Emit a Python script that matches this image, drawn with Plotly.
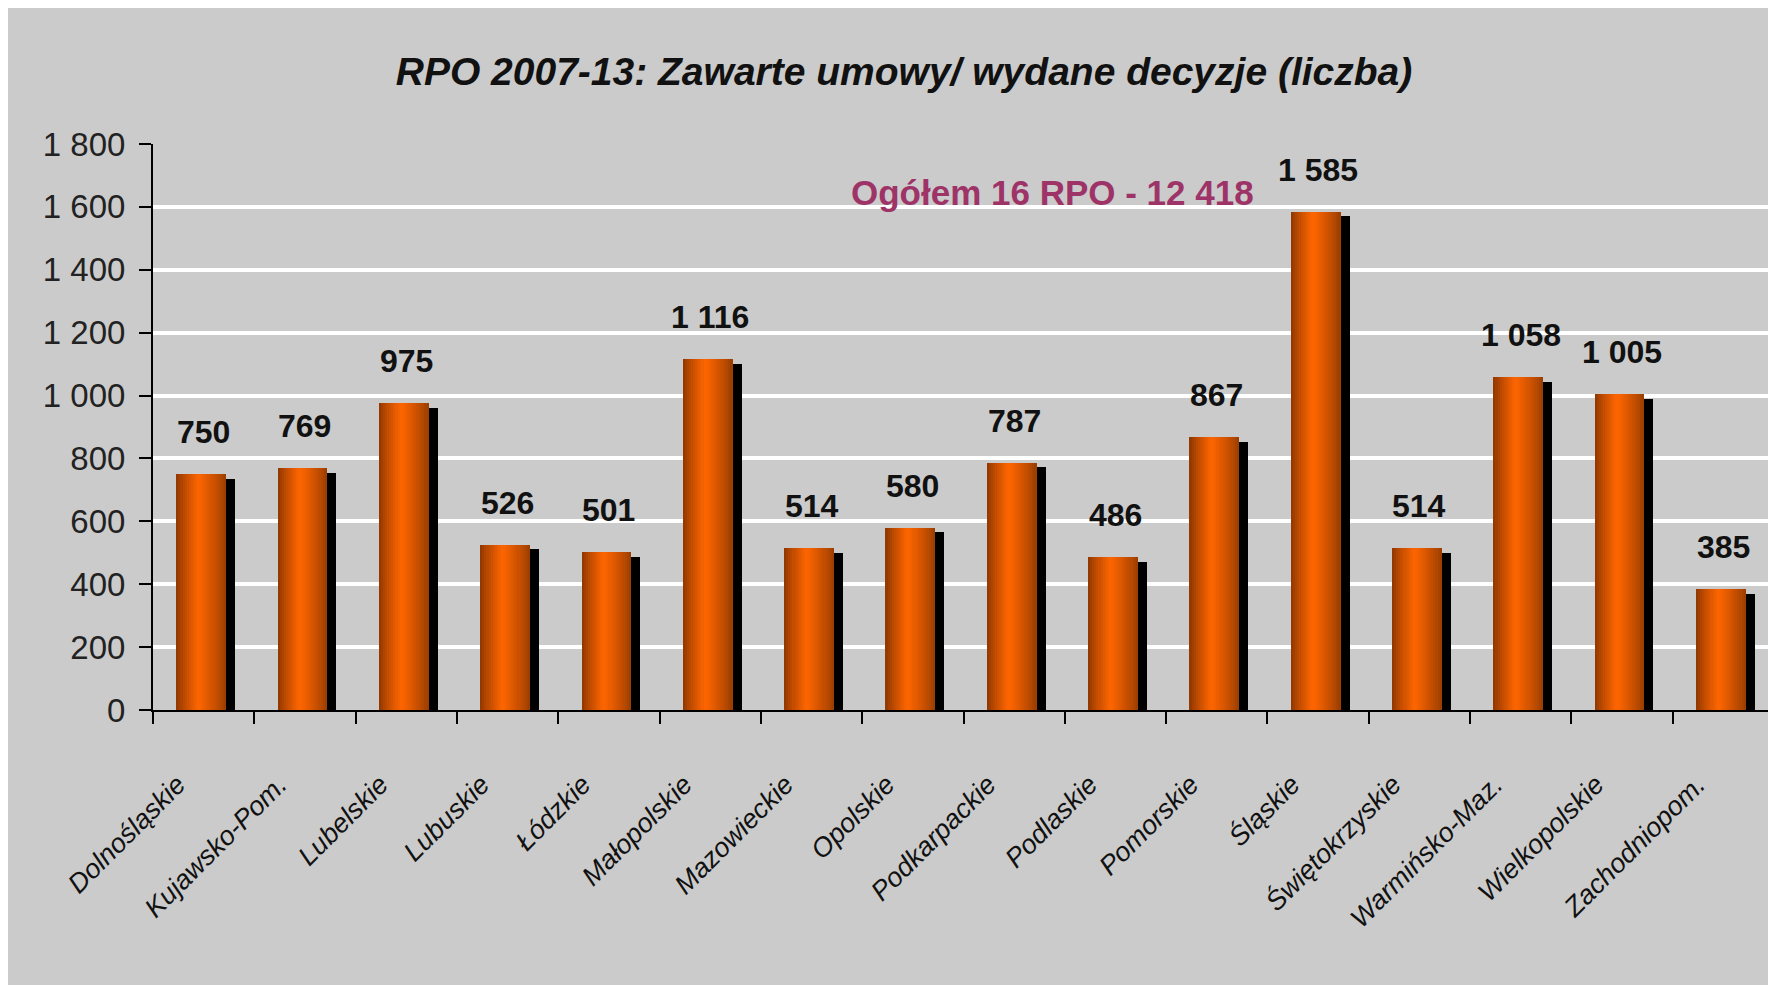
import plotly.graph_objects as go

# ---------------- data ----------------
categories = ["Dolnośląskie", "Kujawsko-Pom.", "Lubelskie", "Lubuskie", "Łódzkie",
              "Małopolskie", "Mazowieckie", "Opolskie", "Podkarpackie", "Podlaskie",
              "Pomorskie", "Śląskie", "Świętokrzyskie", "Warmińsko-Maz.",
              "Wielkopolskie", "Zachodniopom."]
values = [750, 769, 975, 526, 501, 1116, 514, 580, 787, 486, 867, 1585, 514, 1058, 1005, 385]
y_ticks = [0, 200, 400, 600, 800, 1000, 1200, 1400, 1600, 1800]
title_text = "RPO 2007-13: Zawarte umowy/ wydane decyzje (liczba)"


def fmt(n):
    return f"{n:,}".replace(",", " ")


total_text = f"Ogółem 16 RPO - {fmt(sum(values))}"

# ---------------- style ----------------
FONT = "Liberation Sans, Arial, sans-serif"
BG = "#cbcbcb"
W, H = 1768, 977
L, R, T, B = 145, 2, 136, 275

fig = go.Figure()

# shadow bars
shadow_drop = 15
fig.add_trace(go.Bar(
    x=categories, y=[v - shadow_drop for v in values],
    offset=0.12, width=0.19, marker=dict(color="black", line=dict(width=0)),
    hoverinfo="skip", showlegend=False))

# gradient orange bars built from thin strips
N = 24
bar_left, bar_w = -0.27, 0.49
dark_l = (0x8a, 0x36, 0x00)
dark_r = (0x95, 0x3c, 0x00)
bright = (0xff, 0x66, 0x00)
peak = 0.45
for i in range(N):
    t = (i + 0.5) / N
    if t <= peak:
        f = t / peak
        c0, c1 = dark_l, bright
    else:
        f = (1 - t) / (1 - peak)
        c0, c1 = dark_r, bright
    f = f ** 0.8
    col = tuple(int(c0[k] + (c1[k] - c0[k]) * f) for k in range(3))
    fig.add_trace(go.Bar(
        x=categories, y=values,
        offset=bar_left + i * bar_w / N, width=bar_w / N * 1.06,
        marker=dict(color="rgb(%d,%d,%d)" % col, line=dict(width=0)),
        hoverinfo="skip", showlegend=False))

# value labels
for c, v in zip(categories, values):
    fig.add_annotation(x=c, y=v, text=f"<b>{fmt(v)}</b>", showarrow=False,
                       yshift=42, yanchor="middle", xanchor="center",
                       font=dict(family=FONT, size=32, color="#111111"))

# total annotation
fig.add_annotation(xref="paper", yref="paper", x=0.5546, y=0.915,
                   xanchor="center", yanchor="middle",
                   text=f"<b>{total_text}</b>", showarrow=False,
                   font=dict(family=FONT, size=35, color="#9e3368"))

fig.update_layout(
    width=W, height=H,
    margin=dict(l=L, r=R, t=T, b=B, pad=0),
    paper_bgcolor=BG, plot_bgcolor=BG,
    barmode="overlay", bargap=0,
    title=dict(text=f"<b><i>{title_text}</i></b>", xref="container", x=0.5068,
               xanchor="center", yref="container", y=1 - 63 / H, yanchor="middle",
               font=dict(family=FONT, size=39, color="#111111")),
    xaxis=dict(type="category", showgrid=False, showline=True, linecolor="black",
               linewidth=2, ticks="outside", tickson="boundaries", ticklen=12,
               tickwidth=2, tickcolor="black", tickangle=-45,
               ticklabelstandoff=46, ticklabelshift=-26,
               tickfont=dict(family=FONT, size=27, color="#111111", style="italic"),
               range=[-0.5, len(categories) - 0.5]),
    yaxis=dict(range=[0, 1800], tickvals=y_ticks, ticktext=[fmt(v) for v in y_ticks],
               showgrid=True, gridcolor="white", gridwidth=4, zeroline=False,
               showline=True, linecolor="black", linewidth=2, ticks="outside",
               ticklen=12, tickwidth=2, tickcolor="black", ticklabelstandoff=7,
               tickfont=dict(family=FONT, size=33, color="#222222")),
)

fig.write_html("out.html")
